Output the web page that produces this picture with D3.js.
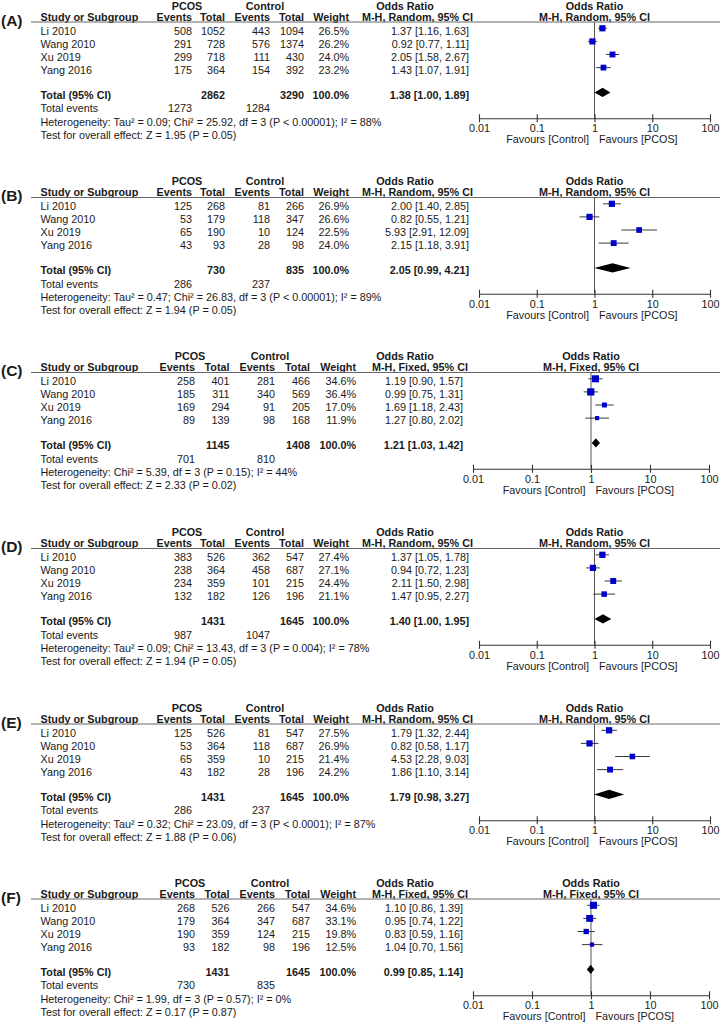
<!DOCTYPE html>
<html><head><meta charset="utf-8">
<script src="https://cdn.jsdelivr.net/npm/d3@7"></script>
<style>html,body{margin:0;padding:0;background:#fff;}svg{display:block;}</style>
</head><body>
<svg id="chart" width="720" height="1025"></svg>
<script>
// ---------- DATA ----------
const panelLabels = ["(A)", "(B)", "(C)", "(D)", "(E)", "(F)"];
const studies = ["Li 2010", "Wang 2010", "Xu 2019", "Yang 2016"];
const methods = ["Random", "Random", "Fixed", "Random", "Random", "Fixed"];
const pcosEvents = [[508, 291, 299, 175], [125, 53, 65, 43], [258, 185, 169, 89], [383, 238, 234, 132], [125, 53, 65, 43], [268, 179, 190, 93]];
const pcosTotal = [[1052, 728, 718, 364], [268, 179, 190, 93], [401, 311, 294, 139], [526, 364, 359, 182], [526, 364, 359, 182], [526, 364, 359, 182]];
const ctrlEvents = [[443, 576, 111, 154], [81, 118, 10, 28], [281, 340, 91, 98], [362, 458, 101, 126], [81, 118, 10, 28], [266, 347, 124, 98]];
const ctrlTotal = [[1094, 1374, 430, 392], [266, 347, 124, 98], [466, 569, 205, 168], [547, 687, 215, 196], [547, 687, 215, 196], [547, 687, 215, 196]];
const weights = [[26.5, 26.2, 24.0, 23.2], [26.9, 26.6, 22.5, 24.0], [34.6, 36.4, 17.0, 11.9], [27.4, 27.1, 24.4, 21.1], [27.5, 26.9, 21.4, 24.2], [34.6, 33.1, 19.8, 12.5]];
const orEst = [[1.37, 0.92, 2.05, 1.43], [2.00, 0.82, 5.93, 2.15], [1.19, 0.99, 1.69, 1.27], [1.37, 0.94, 2.11, 1.47], [1.79, 0.82, 4.53, 1.86], [1.10, 0.95, 0.83, 1.04]];
const orLow = [[1.16, 0.77, 1.58, 1.07], [1.40, 0.55, 2.91, 1.18], [0.90, 0.75, 1.18, 0.80], [1.05, 0.72, 1.50, 0.95], [1.32, 0.58, 2.28, 1.10], [0.86, 0.74, 0.59, 0.70]];
const orHigh = [[1.63, 1.11, 2.67, 1.91], [2.85, 1.21, 12.09, 3.91], [1.57, 1.31, 2.43, 2.02], [1.78, 1.23, 2.98, 2.27], [2.44, 1.17, 9.03, 3.14], [1.39, 1.22, 1.16, 1.56]];
const totalPcosN = [2862, 730, 1145, 1431, 1431, 1431];
const totalCtrlN = [3290, 835, 1408, 1645, 1645, 1645];
const totalPcosEvents = [1273, 286, 701, 987, 286, 730];
const totalCtrlEvents = [1284, 237, 810, 1047, 237, 835];
const pooledOR = [1.38, 2.05, 1.21, 1.40, 1.79, 0.99];
const pooledLow = [1.00, 0.99, 1.03, 1.00, 0.98, 0.85];
const pooledHigh = [1.89, 4.21, 1.42, 1.95, 3.27, 1.14];
const heterogeneity = [
  "Heterogeneity: Tau\u00B2 = 0.09; Chi\u00B2 = 25.92, df = 3 (P < 0.00001); I\u00B2 = 88%",
  "Heterogeneity: Tau\u00B2 = 0.47; Chi\u00B2 = 26.83, df = 3 (P < 0.00001); I\u00B2 = 89%",
  "Heterogeneity: Chi\u00B2 = 5.39, df = 3 (P = 0.15); I\u00B2 = 44%",
  "Heterogeneity: Tau\u00B2 = 0.09; Chi\u00B2 = 13.43, df = 3 (P = 0.004); I\u00B2 = 78%",
  "Heterogeneity: Tau\u00B2 = 0.32; Chi\u00B2 = 23.09, df = 3 (P < 0.0001); I\u00B2 = 87%",
  "Heterogeneity: Chi\u00B2 = 1.99, df = 3 (P = 0.57); I\u00B2 = 0%"
];
const overallEffect = [
  "Test for overall effect: Z = 1.95 (P = 0.05)",
  "Test for overall effect: Z = 1.94 (P = 0.05)",
  "Test for overall effect: Z = 2.33 (P = 0.02)",
  "Test for overall effect: Z = 1.94 (P = 0.05)",
  "Test for overall effect: Z = 1.88 (P = 0.06)",
  "Test for overall effect: Z = 0.17 (P = 0.87)"
];
const axisTicks = [0.01, 0.1, 1, 10, 100];
const axisTickLabels = ["0.01", "0.1", "1", "10", "100"];
const favoursLeft = "Favours [Control]";
const favoursRight = "Favours [PCOS]";

// ---------- LAYOUT ----------
const FONT = "'Liberation Sans', Arial, Helvetica, sans-serif";
const FS = 10.8;
const TEXT = "#1a1a1a";
const layouts = {
  Random: {evP: 192, totP: 225, evC: 270, totC: 304, wt: 349, orR: 469, pcosC: 187, ctrlC: 265, orTitleC: 405, orSubC: 417.5, x0: 479, x1: 710},
  Fixed:  {evP: 195, totP: 229.5, evC: 275, totC: 310, wt: 356, orR: 463, pcosC: 190, ctrlC: 270, orTitleC: 405, orSubC: 420, x0: 473, x1: 709}
};
const panelTops = [0, 175.5, 350.5, 526.5, 702, 877];

const svg = d3.select("#chart");
const fmt2 = d3.format(".2f");
const fmtW = d => d3.format(".1f")(d) + "%";
const orText = (e, l, h) => `${fmt2(e)} [${fmt2(l)}, ${fmt2(h)}]`;

panelLabels.forEach((lab, p) => {
  const L = layouts[methods[p]];
  const g = svg.append("g").attr("transform", `translate(0,${panelTops[p]})`);
  const x = d3.scaleLog().domain([0.01, 100]).range([L.x0, L.x1]);
  const txt = (s, xx, yy, anchor, bold, size) => g.append("text")
    .attr("x", xx).attr("y", yy).attr("text-anchor", anchor || "start")
    .attr("font-family", FONT).attr("font-size", size || FS)
    .attr("font-weight", bold ? "bold" : "normal").attr("fill", TEXT).text(s);

  // panel label
  txt(lab, 1, 25.5, "start", true, 15.5);

  // group headers
  const gy = 9.9;
  txt("PCOS", L.pcosC, gy, "middle", true);
  txt("Control", L.ctrlC, gy, "middle", true);
  txt("Odds Ratio", L.orTitleC, gy, "middle", true);
  txt("Odds Ratio", x(1), gy, "middle", true);
  // column headers
  const hy = 20.8;
  txt("Study or Subgroup", 40.5, hy, "start", true);
  txt("Events", L.evP, hy, "end", true);
  txt("Total", L.totP, hy, "end", true);
  txt("Events", L.evC, hy, "end", true);
  txt("Total", L.totC, hy, "end", true);
  txt("Weight", L.wt, hy, "end", true);
  txt(`M-H, ${methods[p]}, 95% CI`, L.orSubC, hy, "middle", true);
  txt(`M-H, ${methods[p]}, 95% CI`, x(1), hy, "middle", true);

  // header rule
  g.append("line").attr("x1", 31).attr("x2", 720).attr("y1", 22).attr("y2", 22)
    .attr("stroke", "#666").attr("stroke-width", 1);

  // study rows
  const rowC = i => 30.7 + 13.1 * i;  // text centre
  studies.forEach((s, i) => {
    const by = rowC(i) + 3.8;
    txt(s, 40.5, by, "start", false);
    txt(pcosEvents[p][i], L.evP, by, "end");
    txt(pcosTotal[p][i], L.totP, by, "end");
    txt(ctrlEvents[p][i], L.evC, by, "end");
    txt(ctrlTotal[p][i], L.totC, by, "end");
    txt(fmtW(weights[p][i]), L.wt, by, "end");
    txt(orText(orEst[p][i], orLow[p][i], orHigh[p][i]), L.orR, by, "end");
  });

  // totals
  const ty = 98.8;
  txt("Total (95% CI)", 40.5, ty, "start", true);
  txt(totalPcosN[p], L.totP, ty, "end", true);
  txt(totalCtrlN[p], L.totC, ty, "end", true);
  txt(fmtW(100), L.wt, ty, "end", true);
  txt(orText(pooledOR[p], pooledLow[p], pooledHigh[p]), L.orR, ty, "end", true);
  txt("Total events", 40.5, 112, "start");
  txt(totalPcosEvents[p], L.evP, 112, "end");
  txt(totalCtrlEvents[p], L.evC, 112, "end");
  txt(heterogeneity[p], 40.5, 125.5, "start");
  txt(overallEffect[p], 40.5, 138.8, "start");

  // plot: null line
  const axisY = 118.3;
  g.append("line").attr("x1", x(1)).attr("x2", x(1)).attr("y1", 22).attr("y2", axisY)
    .attr("stroke", "#555").attr("stroke-width", 1);

  // CI lines and squares
  const mk = studies.map((s, i) => ({e: orEst[p][i], l: orLow[p][i], h: orHigh[p][i], w: weights[p][i], y: rowC(i) - 2.4}));
  g.selectAll("line.ci").data(mk).join("line").attr("class", "ci")
    .attr("x1", d => x(d.l)).attr("x2", d => x(d.h)).attr("y1", d => d.y).attr("y2", d => d.y)
    .attr("stroke", "#3a3a3a").attr("stroke-width", 1);
  g.selectAll("rect.sq").data(mk).join("rect").attr("class", "sq")
    .attr("x", d => x(d.e) - 0.6 * Math.sqrt(d.w)).attr("y", d => d.y - 0.6 * Math.sqrt(d.w))
    .attr("width", d => 1.2 * Math.sqrt(d.w)).attr("height", d => 1.2 * Math.sqrt(d.w))
    .attr("fill", "#0000c8");

  // pooled diamond
  const dy = 95 - 2.6, dh = 4.6;
  g.append("path")
    .attr("d", `M${x(pooledLow[p])},${dy} L${x(pooledOR[p])},${dy - dh} L${x(pooledHigh[p])},${dy} L${x(pooledOR[p])},${dy + dh} Z`)
    .attr("fill", "#000");

  // axis
  const ax = d3.axisBottom(x).tickValues(axisTicks).tickFormat((d, i) => axisTickLabels[i]).tickSize(4).tickSizeOuter(0);
  const axG = g.append("g").attr("transform", `translate(0,${axisY})`).call(ax);
  axG.select(".domain").attr("stroke", "#333").attr("stroke-width", 1.1);
  axG.selectAll(".tick line").attr("y1", -4).attr("y2", 4).attr("stroke", "#333").attr("stroke-width", 1.1);
  axG.selectAll(".tick text").attr("y", 0).attr("dy", null).attr("transform", "translate(0,13.7)")
    .attr("font-family", FONT).attr("font-size", FS).attr("fill", TEXT);

  txt(favoursLeft, x(1) - 5.5, 143, "end");
  txt(favoursRight, x(1) + 4.5, 143, "start");
});
</script>
</body></html>
